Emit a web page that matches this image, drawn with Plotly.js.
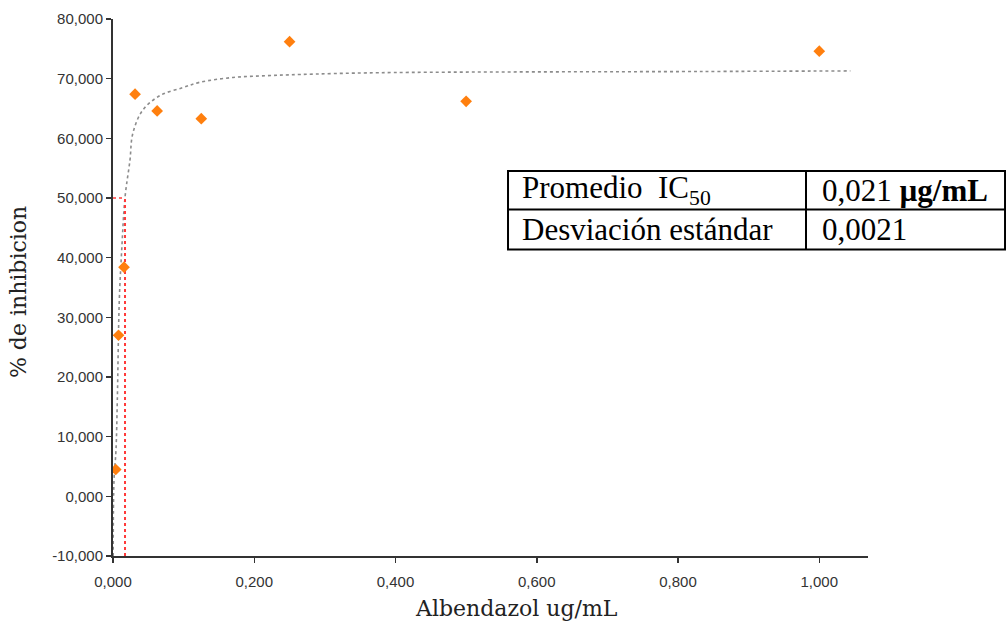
<!DOCTYPE html>
<html>
<head>
<meta charset="utf-8">
<script src="https://cdn.plot.ly/plotly-3.0.1.min.js"></script>
<style>
  html, body { margin: 0; padding: 0; background: #fff; }
  #chart { width: 1006px; height: 627px; }
</style>
</head>
<body>
<div id="chart"></div>
<script>
// Measured data (Albendazol concentration, % inhibition)
const concentrations = [0.0039, 0.0078, 0.0156, 0.03125, 0.0625, 0.125, 0.25, 0.5, 1.0];
const inhibition = [4.5, 27.0, 38.4, 67.4, 64.6, 63.3, 76.2, 66.2, 74.6];

// Fitted dose-response curve
const fitX = [0.0003, 0.0014, 0.0042, 0.0061, 0.0089, 0.0123, 0.017, 0.024, 0.028, 0.042, 0.067, 0.099, 0.123, 0.170, 0.218, 0.265, 0.378, 0.83, 1.044];
const fitY = [-10, 2.7, 7.7, 16.1, 32.8, 41.2, 50.1, 56.3, 60.8, 64.7, 67.2, 68.5, 69.4, 70.2, 70.5, 70.7, 71.0, 71.2, 71.3];

// IC50 guide lines
const ic50X = 0.017;
const ic50Y = 50;
const guideVX = [ic50X, ic50X];
const guideVY = [-10, ic50Y];
const guideHX = [0, ic50X];
const guideHY = [ic50Y, ic50Y];

// Axis ticks and titles
const yTickVals = [-10, 0, 10, 20, 30, 40, 50, 60, 70, 80];
const yTickText = ['-10,000', '0,000', '10,000', '20,000', '30,000', '40,000', '50,000', '60,000', '70,000', '80,000'];
const xTickVals = [0, 0.2, 0.4, 0.6, 0.8, 1.0];
const xTickText = ['0,000', '0,200', '0,400', '0,600', '0,800', '1,000'];
const xTitle = 'Albendazol ug/mL';
const yTitle = '% de inhibicion';

// Summary table
const tableLabels = ['Promedio&nbsp; IC<sub>50</sub>', 'Desviación estándar'];
const tableValues = ['0,021 <b>µg/mL</b>', '0,0021'];

const traces = [
  {
    x: fitX, y: fitY, mode: 'lines', type: 'scatter',
    line: { color: '#8c8c8c', width: 1.6, dash: '3px,3px', shape: 'spline' },
    hoverinfo: 'skip'
  },
  {
    x: guideVX, y: guideVY, mode: 'lines', type: 'scatter',
    line: { color: '#ff3b3b', width: 2, dash: 'dot' }, hoverinfo: 'skip'
  },
  {
    x: guideHX, y: guideHY, mode: 'lines', type: 'scatter',
    line: { color: '#ff3b3b', width: 1.5, dash: '3px,3px' }, hoverinfo: 'skip'
  },
  {
    x: concentrations, y: inhibition, mode: 'markers', type: 'scatter',
    marker: { symbol: 'diamond', size: 9, color: '#ff7f0e', line: { width: 0 } }
  }
];

// Table geometry in paper coords
const tL = 0.5232, tR = 1.1815, tC = 0.9179;
const tTop = 0.7169, tMid = 0.6453, tBot = 0.5708;
const lineStyle = { color: '#000', width: 2 };
const shapes = [
  { type: 'rect', xref: 'paper', yref: 'paper', x0: tL, x1: tR, y0: tBot, y1: tTop, line: lineStyle, fillcolor: 'rgba(255,255,255,1)', layer: 'above' },
  { type: 'line', xref: 'paper', yref: 'paper', x0: tL, x1: tR, y0: tMid, y1: tMid, line: lineStyle },
  { type: 'line', xref: 'paper', yref: 'paper', x0: tC, x1: tC, y0: tBot, y1: tTop, line: lineStyle }
];
const rowY = [(tTop + tMid) / 2, (tMid + tBot) / 2];
const tableFont = { family: '"Liberation Serif", "Times New Roman", serif', size: 31, color: '#000' };
const titleFont = { family: '"DejaVu Serif", serif', size: 22, color: '#222' };
const annotations = [];
tableLabels.forEach((t, i) => {
  annotations.push({ xref: 'paper', yref: 'paper', x: 0.539, y: rowY[i], xanchor: 'left', yanchor: 'middle', text: t, showarrow: false, font: tableFont });
});
tableValues.forEach((t, i) => {
  annotations.push({ xref: 'paper', yref: 'paper', x: 0.936, y: rowY[i], xanchor: 'left', yanchor: 'middle', text: t, showarrow: false, font: tableFont });
});
annotations.push({ xref: 'paper', yref: 'paper', x: 0.534, y: -0.098, xanchor: 'center', yanchor: 'middle', text: xTitle, showarrow: false, font: titleFont });
annotations.push({ xref: 'paper', yref: 'paper', x: -0.1258, y: 0.4916, xanchor: 'center', yanchor: 'middle', textangle: -90, text: yTitle, showarrow: false, font: titleFont });

const tickFont = { family: '"Liberation Sans", Arial, sans-serif', size: 15, color: '#333' };

const layout = {
  width: 1006, height: 627,
  margin: { l: 113, r: 138, t: 19, b: 71 },
  paper_bgcolor: '#fff', plot_bgcolor: '#fff',
  showlegend: false,
  xaxis: {
    range: [0, 1.069], showgrid: false, zeroline: false,
    showline: true, linecolor: '#333', linewidth: 2,
    ticks: 'outside', ticklen: 5, tickwidth: 1.5, tickcolor: '#333',
    tickvals: xTickVals, ticktext: xTickText, tickfont: tickFont,
    ticklabelstandoff: 6
  },
  yaxis: {
    range: [-10, 80], showgrid: false, zeroline: false,
    showline: true, linecolor: '#333', linewidth: 2,
    ticks: 'outside', ticklen: 5, tickwidth: 1.5, tickcolor: '#333',
    tickvals: yTickVals, ticktext: yTickText, tickfont: tickFont
  },
  shapes: shapes,
  annotations: annotations
};

Plotly.newPlot('chart', traces, layout, { displayModeBar: false, staticPlot: true });
</script>
</body>
</html>
